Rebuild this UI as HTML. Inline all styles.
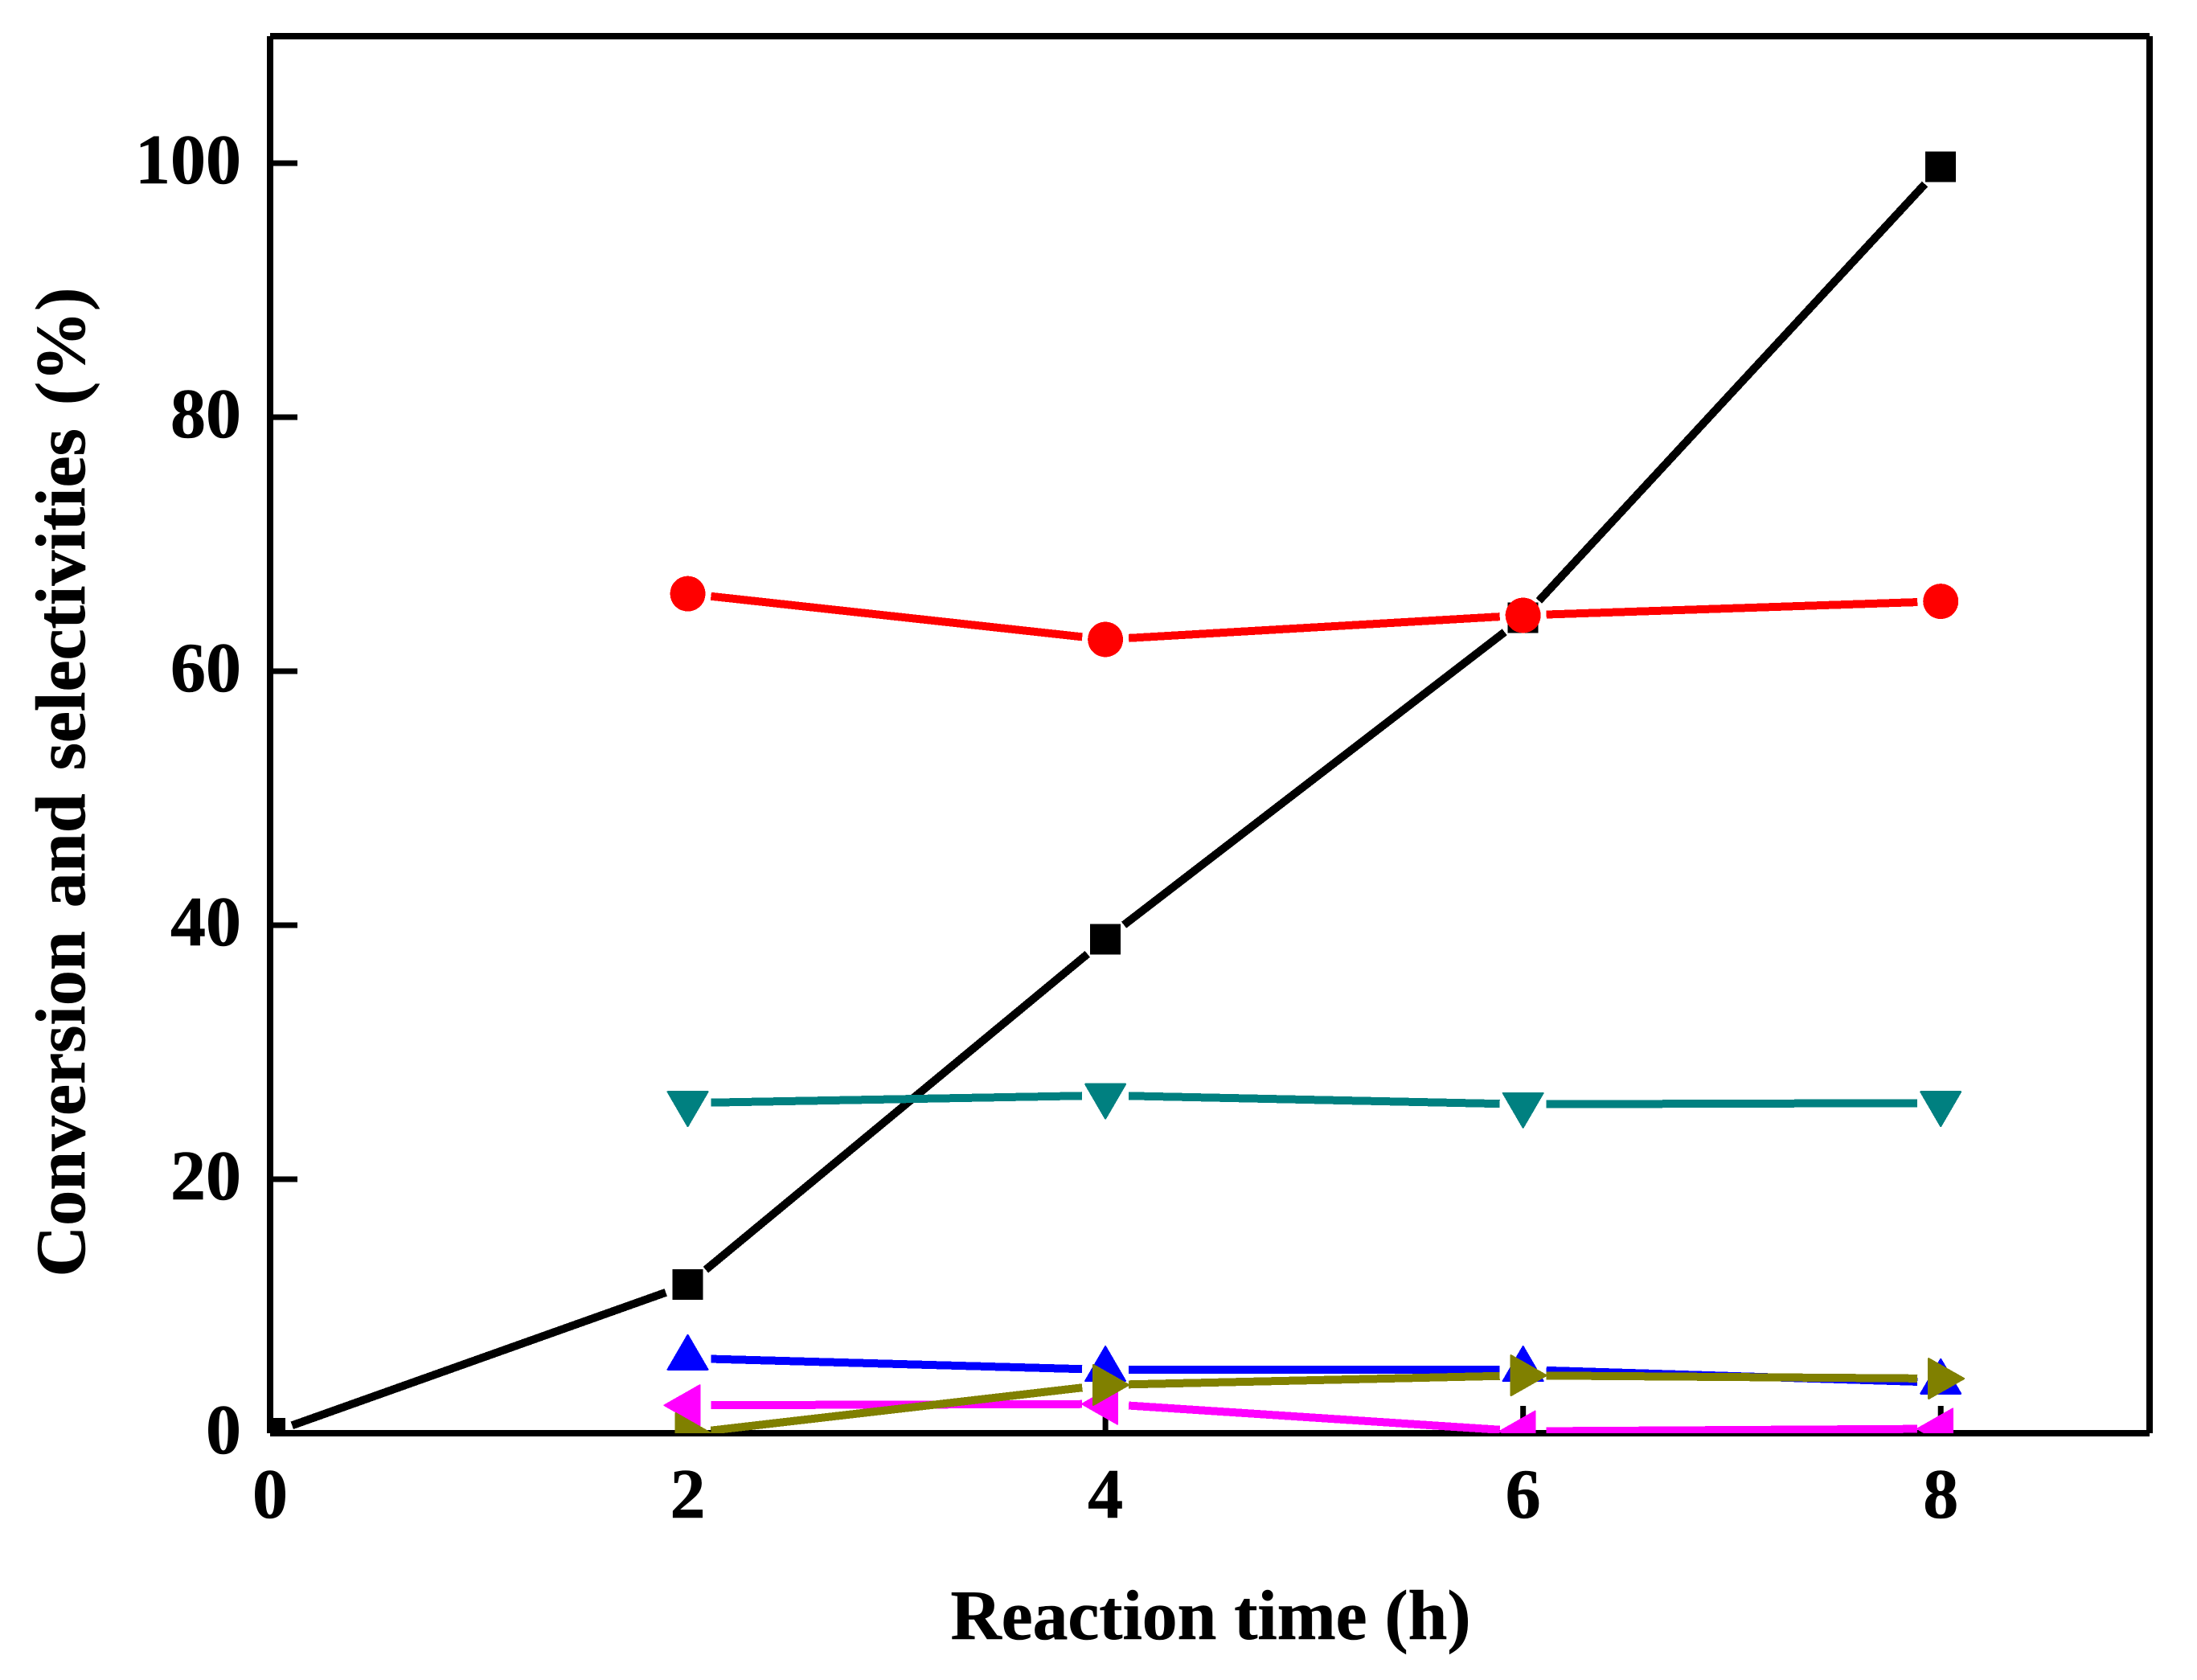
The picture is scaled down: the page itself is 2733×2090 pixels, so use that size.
<!DOCTYPE html>
<html lang="en">
<head>
<meta charset="utf-8">
<title>Conversion and selectivities vs reaction time</title>
<style>
html,body{margin:0;padding:0;background:#fff;}
body{width:2733px;height:2090px;overflow:hidden;}
svg{display:block;}
text{font-family:"Liberation Serif",serif;font-weight:bold;fill:#000;stroke:#000;stroke-width:0.6px;}
</style>
</head>
<body>
<svg id="chart" xmlns="http://www.w3.org/2000/svg" width="2733" height="2090" viewBox="0 0 2733 2090">
  <rect x="0" y="0" width="2733" height="2090" fill="#fff"/>
  <defs>
    <clipPath id="plot-clip"><rect x="336" y="45" width="2338" height="1738"/></clipPath>
  </defs>
  <g id="ticks"></g>
  <rect x="332" y="45" width="8" height="1738" fill="#000"/>
  <rect x="2670" y="45" width="8" height="1738" fill="#000"/>
  <rect x="336" y="41" width="2338" height="8" fill="#000"/>
  <rect x="336" y="1779" width="2338" height="8" fill="#000"/>
  <g id="series" clip-path="url(#plot-clip)" shape-rendering="crispEdges"></g>
  <g id="tick-labels"></g>
  <text x="1506" y="2039" text-anchor="middle" font-size="87.6">Reaction time (h)</text>
  <text transform="translate(105,973) rotate(-90)" text-anchor="middle" font-size="88" word-spacing="7">Conversion and selectivities (%)</text>
</svg>
<script>
const xTickValues = [0, 2, 4, 6, 8];
const yTickValues = [0, 20, 40, 60, 80, 100];
const xTickLabels = ['0', '2', '4', '6', '8'];
const yTickLabels = ['0', '20', '40', '60', '80', '100'];

const conversionX = [0, 2, 4, 6, 8];
const conversionY = [0, 11.7, 38.9, 64.2, 99.7];
const timesX = [2, 4, 6, 8];
const redY = [66.1, 62.5, 64.4, 65.5];
const blueY = [5.9, 5.0, 5.0, 4.0];
const tealY = [26.0, 26.6, 25.9, 26.0];
const magentaY = [2.2, 2.3, 0.15, 0.35];
const oliveY = [0.0, 3.8, 4.55, 4.3];

const NS = 'http://www.w3.org/2000/svg';
const xMin = 0, xMax = 9, yMin = 0, yMax = 110;
const left = 336, right = 2674, top_ = 45, bottom = 1783;
function sx(v) { return left + (v - xMin) / (xMax - xMin) * (right - left); }
function sy(v) { return bottom - (v - yMin) / (yMax - yMin) * (bottom - top_); }

const tickGroup = document.getElementById('ticks');
const labelGroup = document.getElementById('tick-labels');
const seriesGroup = document.getElementById('series');

xTickValues.forEach(function (v, i) {
  const t = document.createElementNS(NS, 'rect');
  t.setAttribute('x', sx(v) - 3.5);
  t.setAttribute('y', bottom - 34);
  t.setAttribute('width', 7);
  t.setAttribute('height', 34);
  t.setAttribute('fill', '#000');
  
  
  tickGroup.appendChild(t);
  const l = document.createElementNS(NS, 'text');
  l.setAttribute('x', sx(v));
  l.setAttribute('y', 1888);
  l.setAttribute('text-anchor', 'middle');
  l.setAttribute('font-size', 88);
  l.textContent = xTickLabels[i];
  
  
  labelGroup.appendChild(l);
});

yTickValues.forEach(function (v, i) {
  const t = document.createElementNS(NS, 'rect');
  t.setAttribute('x', left);
  t.setAttribute('y', sy(v) - 3.5);
  t.setAttribute('width', 34);
  t.setAttribute('height', 7);
  t.setAttribute('fill', '#000');
  
  
  tickGroup.appendChild(t);
  const l = document.createElementNS(NS, 'text');
  l.setAttribute('x', 300);
  l.setAttribute('y', sy(v) + 25);
  l.setAttribute('text-anchor', 'end');
  l.setAttribute('font-size', 88);
  l.textContent = yTickLabels[i];
  
  
  labelGroup.appendChild(l);
});

function markerShape(kind, cx, cy, color) {
  let el;
  if (kind === 'square') {
    el = document.createElementNS(NS, 'rect');
    el.setAttribute('x', cx - 19);
    el.setAttribute('y', cy - 19);
    el.setAttribute('width', 38);
    el.setAttribute('height', 38);
  } else if (kind === 'circle') {
    el = document.createElementNS(NS, 'circle');
    el.setAttribute('cx', cx);
    el.setAttribute('cy', cy);
    el.setAttribute('r', 22);
  } else {
    el = document.createElementNS(NS, 'polygon');
    let pts;
    if (kind === 'up') pts = [[0, -29], [25, 14], [-25, 14]];
    else if (kind === 'down') pts = [[0, 29], [25, -14], [-25, -14]];
    else if (kind === 'left') pts = [[-29, 0], [15, -25], [15, 25]];
    else pts = [[29, 0], [-15, -25], [-15, 25]];
    el.setAttribute('points', pts.map(function (p) { return (cx + p[0]) + ',' + (cy + p[1]); }).join(' '));
    el.setAttribute('stroke', color);
    el.setAttribute('stroke-width', 2);
    el.setAttribute('stroke-linejoin', 'round');
  }
  el.setAttribute('fill', color);
  return el;
}

function drawSeries(name, xs, ys, color, kind) {
  const g = document.createElementNS(NS, 'g');
  
  
  const gap = 29;
  for (let i = 0; i < xs.length - 1; i++) {
    const x1 = sx(xs[i]), y1 = sy(ys[i]), x2 = sx(xs[i + 1]), y2 = sy(ys[i + 1]);
    const len = Math.hypot(x2 - x1, y2 - y1);
    const ux = (x2 - x1) / len, uy = (y2 - y1) / len;
    const seg = document.createElementNS(NS, 'line');
    seg.setAttribute('x1', x1 + ux * gap);
    seg.setAttribute('y1', y1 + uy * gap);
    seg.setAttribute('x2', x2 - ux * gap);
    seg.setAttribute('y2', y2 - uy * gap);
    seg.setAttribute('stroke', color);
    seg.setAttribute('stroke-width', 10);
    
    
    g.appendChild(seg);
  }
  for (let i = 0; i < xs.length; i++) {
    const m = markerShape(kind, sx(xs[i]), sy(ys[i]), color);
    
    
    g.appendChild(m);
  }
  seriesGroup.appendChild(g);
}

drawSeries('conversion-series', conversionX, conversionY, '#000000', 'square');
drawSeries('red-selectivity-series', timesX, redY, '#ff0000', 'circle');
drawSeries('blue-selectivity-series', timesX, blueY, '#0000ff', 'up');
drawSeries('teal-selectivity-series', timesX, tealY, '#008080', 'down');
drawSeries('magenta-selectivity-series', timesX, magentaY, '#ff00ff', 'left');
drawSeries('olive-selectivity-series', timesX, oliveY, '#808000', 'right');
</script>
</body>
</html>
